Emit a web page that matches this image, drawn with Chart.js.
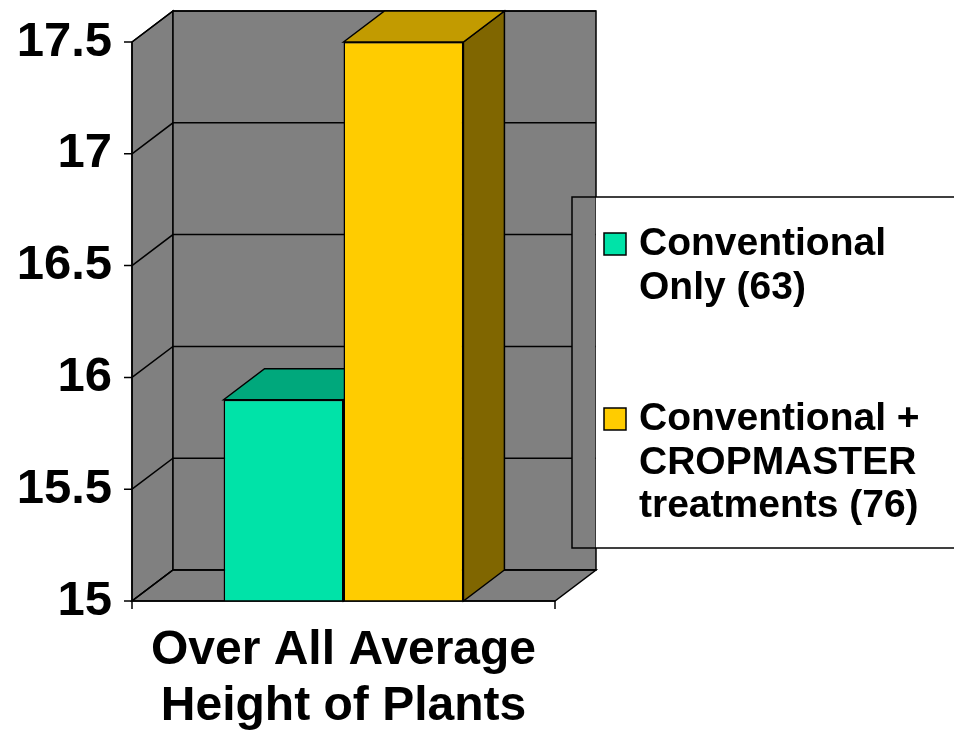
<!DOCTYPE html>
<html>
<head>
<meta charset="utf-8">
<script src="https://cdn.jsdelivr.net/npm/chart.js@4.4.1/dist/chart.umd.min.js"></script>
<style>
  html, body { margin: 0; padding: 0; background: #fff; }
</style>
</head>
<body>
<canvas id="chart" width="954" height="736"></canvas>
<script>
// chart data
const categories = [["Over All Average", "Height of Plants"]];
const conventionalOnly = [15.9];
const withCropmaster = [17.5];
const legendLines = [
  ["Conventional", "Only (63)"],
  ["Conventional +", "CROPMASTER", "treatments (76)"]
];
const yMin = 15, yMax = 17.5, yStep = 0.5;

const FONT = '"Liberation Sans", Arial, sans-serif';
const DEPTH_X = 41, DEPTH_Y = -31;
const WALL = "#808080";
const faceColors = [
  { front: "#00E3A8", top: "#00A87C", side: "#007A5A" },
  { front: "#FFCC00", top: "#C29B00", side: "#806600" }
];

function poly(ctx, pts, fill) {
  ctx.beginPath();
  ctx.moveTo(pts[0][0], pts[0][1]);
  for (let i = 1; i < pts.length; i++) ctx.lineTo(pts[i][0], pts[i][1]);
  ctx.closePath();
  if (fill) { ctx.fillStyle = fill; ctx.fill(); }
  ctx.stroke();
}

// legend box (partly tucked behind the back wall, like the original)
const box = { x: 572, y: 197, w: 400, h: 351 };

// back walls, floor and the gridlines on them
const walls = {
  id: "walls",
  beforeDatasetsDraw(chart) {
    const { ctx, chartArea: a, scales: { y } } = chart;
    ctx.save();
    ctx.strokeStyle = "#000";
    ctx.lineWidth = 1.5;
    // left side wall
    poly(ctx, [[a.left, a.top], [a.left + DEPTH_X, a.top + DEPTH_Y],
               [a.left + DEPTH_X, a.bottom + DEPTH_Y], [a.left, a.bottom]], WALL);
    // back wall
    poly(ctx, [[a.left + DEPTH_X, a.top + DEPTH_Y], [a.right + DEPTH_X, a.top + DEPTH_Y],
               [a.right + DEPTH_X, a.bottom + DEPTH_Y], [a.left + DEPTH_X, a.bottom + DEPTH_Y]], WALL);
    // floor
    poly(ctx, [[a.left, a.bottom], [a.right, a.bottom],
               [a.right + DEPTH_X, a.bottom + DEPTH_Y], [a.left + DEPTH_X, a.bottom + DEPTH_Y]], WALL);
    // gridlines
    y.ticks.forEach(t => {
      const py = y.getPixelForValue(t.value);
      ctx.beginPath();
      ctx.moveTo(a.left, py);
      ctx.lineTo(a.left + DEPTH_X, py + DEPTH_Y);
      ctx.lineTo(a.right + DEPTH_X, py + DEPTH_Y);
      ctx.stroke();
    });
    // the legend box edge hides the gridlines on the strip of wall it covers
    ctx.fillStyle = WALL;
    ctx.fillRect(box.x, box.y, a.right + DEPTH_X - box.x - 0.75, box.h);

    // top and side faces of each bar (fronts are drawn by Chart.js afterwards)
    const base = y.getPixelForValue(yMin);
    chart.data.datasets.forEach((ds, i) => {
      const meta = chart.getDatasetMeta(i);
      const c = faceColors[i];
      meta.data.forEach(bar => {
        const { x, y: top, width } = bar.getProps(["x", "y", "width"], true);
        const l = x - width / 2, r = x + width / 2;
        poly(ctx, [[r, top], [r + DEPTH_X, top + DEPTH_Y], [r + DEPTH_X, base + DEPTH_Y], [r, base]], c.side);
        poly(ctx, [[l, top], [l + DEPTH_X, top + DEPTH_Y], [r + DEPTH_X, top + DEPTH_Y], [r, top]], c.top);
      });
    });
    ctx.restore();
  },
  afterDraw(chart) {
    const { ctx, chartArea: a, scales: { y } } = chart;
    ctx.save();
    ctx.strokeStyle = "#000";
    ctx.lineWidth = 1.5;
    // value axis line and ticks
    ctx.beginPath();
    ctx.moveTo(a.left, a.top);
    ctx.lineTo(a.left, a.bottom);
    y.ticks.forEach(t => {
      const py = y.getPixelForValue(t.value);
      ctx.moveTo(a.left - 8, py);
      ctx.lineTo(a.left, py);
    });
    // category axis line and end ticks
    ctx.moveTo(a.left, a.bottom);
    ctx.lineTo(a.right, a.bottom);
    ctx.moveTo(a.left, a.bottom);
    ctx.lineTo(a.left, a.bottom + 8);
    ctx.moveTo(a.right, a.bottom);
    ctx.lineTo(a.right, a.bottom + 8);
    ctx.stroke();

    // legend
    ctx.fillStyle = "#fff";
    ctx.fillRect(a.right + DEPTH_X, box.y, box.w, box.h);
    ctx.strokeRect(box.x, box.y, box.w, box.h);
    ctx.font = "bold 39px " + FONT;
    ctx.textBaseline = "alphabetic";
    const itemTops = [233, 408];
    chart.data.datasets.forEach((ds, i) => {
      const top = itemTops[i];
      ctx.fillStyle = ds.backgroundColor;
      ctx.fillRect(604, top, 22, 22);
      ctx.strokeRect(604, top, 22, 22);
      ctx.fillStyle = "#000";
      legendLines[i].forEach((line, j) => {
        ctx.fillText(line, 639, top + 22 + j * 43.5);
      });
    });
    ctx.restore();
  }
};

new Chart(document.getElementById("chart"), {
  type: "bar",
  data: {
    labels: categories,
    datasets: [
      {
        label: legendLines[0].join(" "),
        data: conventionalOnly,
        backgroundColor: faceColors[0].front,
        borderColor: "#000",
        borderWidth: 1.5
      },
      {
        label: legendLines[1].join(" "),
        data: withCropmaster,
        backgroundColor: faceColors[1].front,
        borderColor: "#000",
        borderWidth: 1.5
      }
    ]
  },
  options: {
    responsive: false,
    animation: false,
    layout: { padding: { top: 42, right: 399, bottom: 0, left: 0 } },
    datasets: { bar: { categoryPercentage: 0.567, barPercentage: 1.0 } },
    plugins: { legend: { display: false }, tooltip: { enabled: false } },
    scales: {
      x: {
        grid: { display: false, drawTicks: false },
        border: { display: false },
        ticks: {
          color: "#000",
          font: { family: FONT, size: 48, weight: "bold", lineHeight: 1.18 },
          padding: 21,
          maxRotation: 0
        },
        afterFit: s => { s.height = 135; }
      },
      y: {
        min: yMin,
        max: yMax,
        grid: { display: false, drawTicks: false },
        border: { display: false },
        ticks: {
          stepSize: yStep,
          color: "#000",
          padding: 20,
          font: { family: FONT, size: 49, weight: "bold" },
          callback: v => String(v)
        },
        afterFit: s => { s.width = 132; s.paddingTop = 0; s.paddingBottom = 0; }
      }
    }
  },
  plugins: [walls]
});
</script>
</body>
</html>
